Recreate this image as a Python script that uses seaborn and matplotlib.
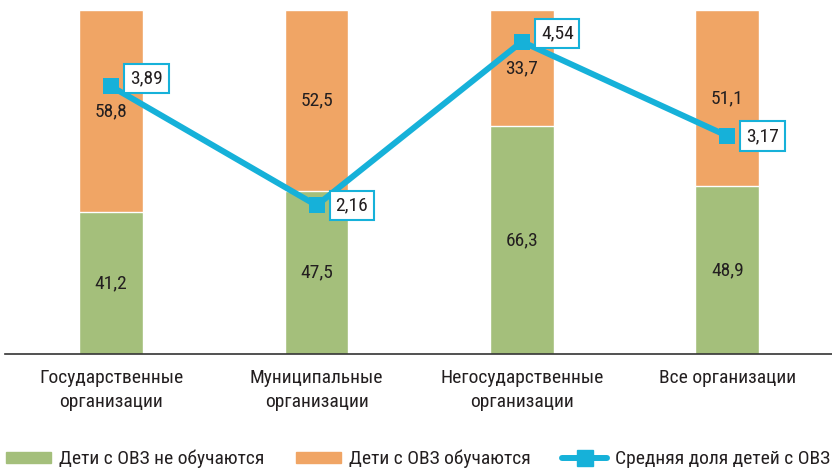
import numpy as np
import pandas as pd
import matplotlib
matplotlib.use("Agg")
import matplotlib.pyplot as plt
from matplotlib.patches import Patch
from matplotlib.lines import Line2D
import seaborn as sns

categories = ["Государственные\nорганизации", "Муниципальные\nорганизации",
              "Негосударственные\nорганизации", "Все организации"]
not_learning = [41.2, 47.5, 66.3, 48.9]   # Дети с ОВЗ не обучаются
learning = [58.8, 52.5, 33.7, 51.1]       # Дети с ОВЗ обучаются
avg_share = [3.89, 2.16, 4.54, 3.17]      # Средняя доля детей с ОВЗ

GREEN = "#a4bf7b"
ORANGE = "#f0a565"
BLUE = "#16b1d9"
TXT = "#231f20"

sns.set_theme(style="white")
plt.rcParams['font.family'] = ['Roboto Condensed', 'DejaVu Sans']


def fmt(v, nd=1):
    return f"{v:.{nd}f}".replace('.', ',')


df = pd.DataFrame({"cat": categories, "green": not_learning, "orange": learning, "avg": avg_share})
df["total"] = df["green"] + df["orange"]

fig = plt.figure(figsize=(8.32, 4.70), dpi=100)
ax = fig.add_axes([5 / 832, 116 / 470, 827 / 832, 344 / 470])

# stacked bars: full height in orange, green drawn on top of it
sns.barplot(data=df, x="cat", y="total", color=ORANGE, width=0.31, saturation=1, ax=ax)
sns.barplot(data=df, x="cat", y="green", color=GREEN, width=0.31, saturation=1, ax=ax)

for i, row in df.iterrows():
    ax.text(i, row["green"] / 2, fmt(row["green"]), ha="center", va="center",
            fontsize=14, color=TXT)
    ax.text(i, row["green"] + row["orange"] / 2, fmt(row["orange"]), ha="center", va="center",
            fontsize=14, color=TXT)

ax.set_ylim(0, 100)
ax.set_xlim(-0.517, 3.51)
ax.set_xlabel("")
ax.set_ylabel("")
ax.set_yticks([])
ax.tick_params(axis="x", length=0, labelsize=14, pad=11, colors=TXT)
for lbl in ax.get_xticklabels():
    lbl.set_linespacing(1.4)
for s in ["top", "right", "left"]:
    ax.spines[s].set_visible(False)
ax.spines["bottom"].set_color("#333333")
ax.spines["bottom"].set_linewidth(1.2)

ax2 = ax.twinx()
sns.lineplot(x=np.arange(len(avg_share)), y=avg_share, color=BLUE, lw=4.3,
             marker="s", markersize=11, markeredgewidth=0, ax=ax2)
ax2.set_ylim(0, 5)
ax2.set_yticks([])
for s in ax2.spines.values():
    s.set_visible(False)

lift = [8, 0, 8, 0]
for i, v in enumerate(avg_share):
    ax2.annotate(fmt(v, 2), (i, v), xytext=(19, lift[i]), textcoords="offset pixels",
                 ha="left", va="center", fontsize=14, color=TXT,
                 bbox=dict(boxstyle="square,pad=0.3", fc="white", ec=BLUE, lw=1.5))

handles = [Patch(color=GREEN, label="Дети с ОВЗ не обучаются"),
           Patch(color=ORANGE, label="Дети с ОВЗ обучаются"),
           Line2D([], [], color=BLUE, lw=4.3, marker="s", markersize=11, label="Средняя доля детей с ОВЗ")]
fig.legend(handles=handles, loc="lower left", bbox_to_anchor=(0.005, 0.0, 0.995, 0.06), ncol=3,
           mode="expand", frameon=False, fontsize=14, handlelength=2.3, handleheight=0.5,
           handletextpad=0.4, borderaxespad=0, borderpad=0.1, labelcolor=TXT)

fig.savefig("out.png", dpi=100)
